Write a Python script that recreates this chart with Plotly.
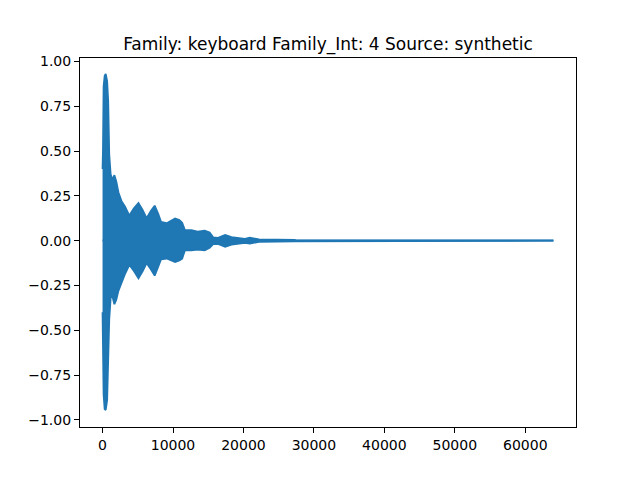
import plotly.graph_objects as go

# Waveform envelope (sample index, upper/lower amplitude)
samples = [0, 60, 150, 300, 450, 650, 800, 950, 1150, 1400, 1680, 1950, 2250, 2700,
           3200, 3800, 4450, 5100, 5700, 6250, 6850, 7400, 7900, 8300, 9100, 9800,
           10300, 10900, 11300, 11700, 12600, 13500, 14500, 15200, 15700, 16400,
           17400, 18300, 19500, 20200, 20900, 21600, 22200, 27300, 27400, 63999]
upper = [0.40, 0.50, 0.86, 0.92, 0.93, 0.89, 0.78, 0.48, 0.37, 0.34, 0.365, 0.33, 0.27, 0.22,
         0.19, 0.14, 0.18, 0.21, 0.17, 0.125, 0.165, 0.195, 0.15, 0.105, 0.097, 0.11,
         0.123, 0.115, 0.10, 0.058, 0.058, 0.05, 0.056, 0.045, 0.018, 0.015,
         0.032, 0.02, 0.013, 0.01, 0.016, 0.01, 0.007, 0.004, 0.0, 0.0]
lower = [-0.40, -0.50, -0.86, -0.94, -0.945, -0.89, -0.78, -0.44, -0.32, -0.31, -0.355, -0.33, -0.28, -0.23,
         -0.185, -0.135, -0.17, -0.21, -0.17, -0.125, -0.16, -0.195, -0.15, -0.105, -0.10, -0.11,
         -0.12, -0.11, -0.10, -0.053, -0.055, -0.05, -0.054, -0.04, -0.02, -0.018,
         -0.034, -0.022, -0.015, -0.012, -0.016, -0.01, -0.007, -0.004, 0.0, 0.0]

title = "Family: keyboard Family_Int: 4 Source: synthetic"
x_ticks = [0, 10000, 20000, 30000, 40000, 50000, 60000]
y_ticks = [-1.0, -0.75, -0.5, -0.25, 0.0, 0.25, 0.5, 0.75, 1.0]

color = "#1f77b4"
poly_x = samples + samples[::-1]
poly_y = upper + lower[::-1]

fig = go.Figure()
fig.add_trace(go.Scatter(x=poly_x, y=poly_y, mode="lines", fill="toself",
                         fillcolor=color, line=dict(color=color, width=1.8),
                         hoverinfo="skip", showlegend=False))
fig.add_trace(go.Scatter(x=[samples[0], samples[-1]], y=[0, 0], mode="lines",
                         line=dict(color=color, width=2), showlegend=False))

axis_common = dict(showline=True, linecolor="black", linewidth=1.1, mirror=True,
                   ticks="outside", ticklen=5, tickwidth=1.1, tickcolor="black",
                   showgrid=False, zeroline=False,
                   tickfont=dict(family="DejaVu Sans", size=14, color="black"))

fig.update_layout(
    width=640, height=480,
    margin=dict(l=72, r=72, t=50, b=61),
    paper_bgcolor="white", plot_bgcolor="white",
    title=dict(text=title, x=0.5, xref="paper", y=1 - 36 / 480, yanchor="middle",
               font=dict(family="DejaVu Sans", size=17, color="black")),
    xaxis=dict(range=[-3200, 67199], tickvals=x_ticks, tickformat="d", **axis_common),
    yaxis=dict(range=[-1.04, 1.019], tickvals=y_ticks, tickformat=".2f", **axis_common),
)

fig.write_html("out.html")
